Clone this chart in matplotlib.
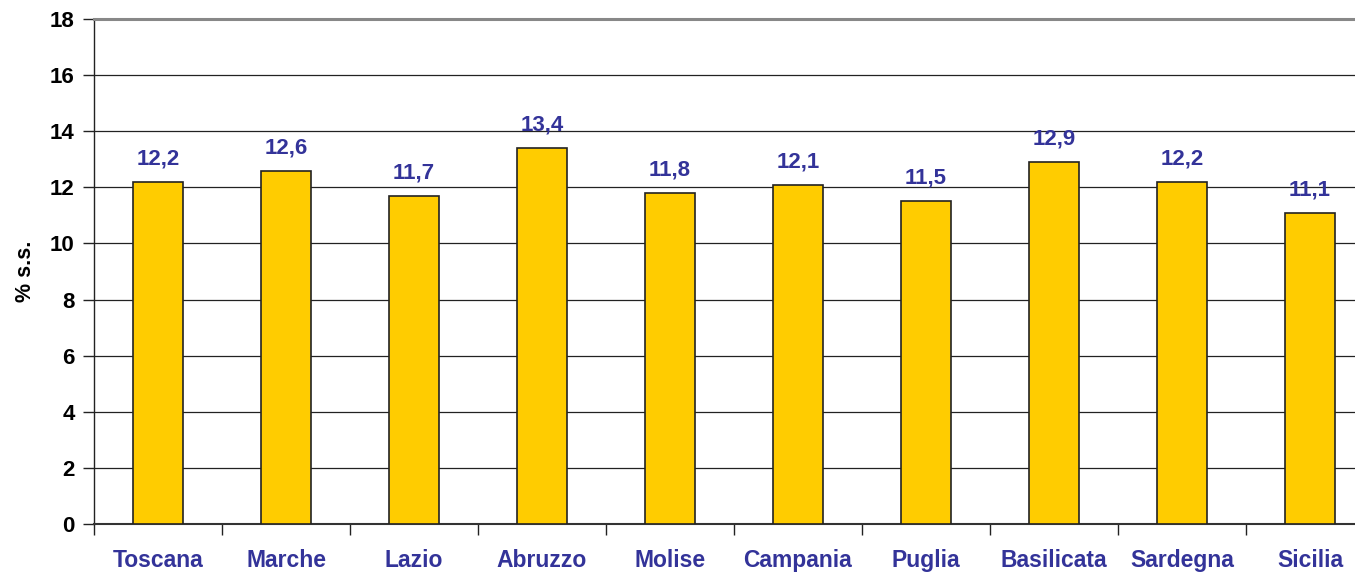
import matplotlib
matplotlib.use("Agg")
import matplotlib.pyplot as plt
import numpy as np

categories = ["Toscana", "Marche", "Lazio", "Abruzzo", "Molise", "Campania",
              "Puglia", "Basilicata", "Sardegna", "Sicilia"]
values = [12.2, 12.6, 11.7, 13.4, 11.8, 12.1, 11.5, 12.9, 12.2, 11.1]
value_labels = ["12,2", "12,6", "11,7", "13,4", "11,8", "12,1", "11,5", "12,9", "12,2", "11,1"]
yticks = [0, 2, 4, 6, 8, 10, 12, 14, 16, 18]

plt.rcParams['font.family'] = ['Liberation Sans', 'DejaVu Sans']
W, H = 1355, 574
fig = plt.figure(figsize=(W / 100, H / 100), dpi=100)
left, right = 94, 94 + 1280
bottom, top = 524, 19
ax = fig.add_axes([left / W, (H - bottom) / H, (right - left) / W, (bottom - top) / H])

x = np.arange(len(categories))
ax.bar(x, values, width=0.39, color="#FFCC00", edgecolor="#222222", linewidth=1.2, zorder=3)
for xi, v, lab in zip(x, values, value_labels):
    ax.annotate(lab, (xi, v), xytext=(0, 9), textcoords="offset points",
                ha="center", va="bottom", fontsize=16, fontweight="bold", color="#333399")

ax.set_xlim(-0.5, len(categories) - 0.5)
ax.set_ylim(0, 18)
ax.set_yticks(yticks)
ax.set_yticklabels([str(t) for t in yticks], fontsize=16, fontweight="bold")
ax.set_xticks(x)
ax.set_xticklabels(categories, fontsize=16.5, fontweight="bold", color="#333399")
ax.tick_params(axis="x", length=0, pad=18)
ax.set_xticks(np.arange(-0.5, len(categories), 1), minor=True)
ax.tick_params(axis="x", which="minor", length=8, width=1, color="#222222", direction="out")
ax.tick_params(axis="y", length=8, width=1, color="#222222", direction="out", pad=6)

ax.yaxis.grid(True, color="#222222", linewidth=0.9, zorder=0)
ax.set_axisbelow(True)
ax.spines["top"].set_color("#888888")
ax.spines["top"].set_linewidth(2.2)
ax.spines["left"].set_color("#222222")
ax.spines["left"].set_linewidth(1)
ax.spines["bottom"].set_color("#333333")
ax.spines["bottom"].set_linewidth(1.5)
ax.spines["right"].set_visible(False)

ax.set_ylabel("% s.s.", fontsize=15.5, fontweight="bold", labelpad=10)

fig.savefig("out.png", dpi=100)
